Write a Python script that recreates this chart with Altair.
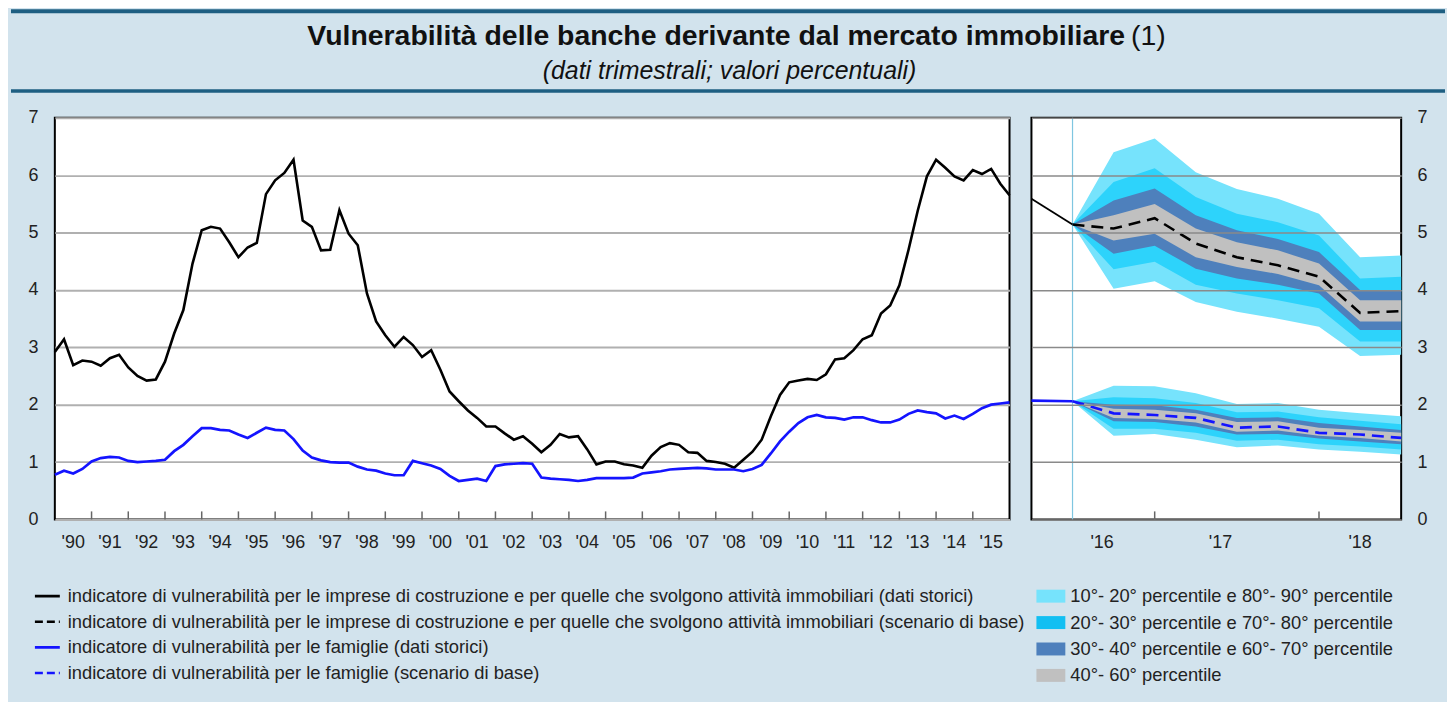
import altair as alt
import pandas as pd

# ---------------- data ----------------
anni_sx = ["'90", "'91", "'92", "'93", "'94", "'95", "'96", "'97", "'98", "'99",
           "'00", "'01", "'02", "'03", "'04", "'05", "'06", "'07", "'08", "'09",
           "'10", "'11", "'12", "'13", "'14", "'15"]
anni_dx = ["'16", "'17", "'18"]
pos_etichette_dx = [2016.68, 2017.40, 2018.25]

# quarterly, 1990 Q1 .. 2016 Q1
imprese_storico = [
    2.92, 3.14, 2.69, 2.77, 2.75, 2.68, 2.81, 2.87, 2.65, 2.50,
    2.42, 2.44, 2.75, 3.24, 3.65, 4.46, 5.04, 5.10, 5.07, 4.83,
    4.57, 4.74, 4.82, 5.67, 5.91, 6.04, 6.27, 5.21, 5.10, 4.69,
    4.70, 5.39, 4.98, 4.78, 3.94, 3.45, 3.21, 3.01, 3.18, 3.04,
    2.83, 2.95, 2.61, 2.23, 2.06, 1.90, 1.77, 1.62, 1.62, 1.50,
    1.39, 1.45, 1.32, 1.17, 1.30, 1.49, 1.43, 1.45, 1.22, 0.96,
    1.01, 1.01, 0.96, 0.94, 0.90, 1.11, 1.26, 1.33, 1.30, 1.17,
    1.16, 1.02, 1.00, 0.97, 0.90, 1.04, 1.18, 1.39, 1.80, 2.17,
    2.39, 2.42, 2.45, 2.43, 2.53, 2.79, 2.81, 2.95, 3.14, 3.21,
    3.59, 3.73, 4.08, 4.70, 5.38, 5.98, 6.27, 6.13, 5.98, 5.91,
    6.09, 6.02, 6.11, 5.85, 5.65]
famiglie_storico = [
    0.78, 0.85, 0.80, 0.88, 1.01, 1.07, 1.09, 1.08, 1.02, 1.00,
    1.01, 1.02, 1.04, 1.19, 1.30, 1.45, 1.59, 1.59, 1.56, 1.55,
    1.48, 1.42, 1.51, 1.60, 1.56, 1.55, 1.40, 1.20, 1.08, 1.03,
    1.00, 0.99, 0.99, 0.92, 0.87, 0.85, 0.80, 0.77, 0.77, 1.02,
    0.98, 0.94, 0.88, 0.76, 0.67, 0.69, 0.71, 0.67, 0.93, 0.96,
    0.97, 0.98, 0.97, 0.73, 0.71, 0.70, 0.69, 0.67, 0.69, 0.72,
    0.72, 0.72, 0.72, 0.73, 0.80, 0.82, 0.84, 0.87, 0.88, 0.89,
    0.90, 0.89, 0.87, 0.87, 0.87, 0.84, 0.88, 0.95, 1.15, 1.36,
    1.53, 1.68, 1.78, 1.82, 1.78, 1.77, 1.74, 1.78, 1.78, 1.73,
    1.69, 1.69, 1.74, 1.84, 1.90, 1.87, 1.85, 1.76, 1.81, 1.75,
    1.84, 1.94, 2.00, 2.02, 2.04]

# right panel: quarterly 2016 Q2 .. 2018 Q3 (first two points historical)
imprese_storico_dx = [5.59, 5.14]
famiglie_storico_dx = [2.07, 2.06]
imprese_base = [5.14, 5.07, 5.25, 4.81, 4.57, 4.43, 4.23, 3.60, 3.63]
imprese_p10 = [5.14, 4.02, 4.15, 3.79, 3.62, 3.50, 3.36, 2.85, 2.87]
imprese_p20 = [5.14, 4.36, 4.49, 4.09, 3.94, 3.82, 3.68, 3.10, 3.10]
imprese_p30 = [5.14, 4.63, 4.77, 4.37, 4.20, 4.09, 3.94, 3.30, 3.30]
imprese_p40 = [5.14, 4.86, 4.98, 4.57, 4.40, 4.28, 4.08, 3.45, 3.45]
imprese_p60 = [5.14, 5.30, 5.50, 5.07, 4.83, 4.69, 4.46, 3.82, 3.82]
imprese_p70 = [5.14, 5.56, 5.77, 5.30, 5.04, 4.89, 4.66, 4.00, 4.00]
imprese_p80 = [5.14, 5.88, 6.12, 5.62, 5.33, 5.18, 4.95, 4.20, 4.23]
imprese_p90 = [5.14, 6.40, 6.64, 6.05, 5.76, 5.59, 5.33, 4.57, 4.60]
famiglie_base = [2.06, 1.85, 1.82, 1.77, 1.60, 1.62, 1.51, 1.48, 1.42]
famiglie_p10 = [2.06, 1.46, 1.49, 1.39, 1.26, 1.29, 1.22, 1.18, 1.13]
famiglie_p20 = [2.06, 1.58, 1.58, 1.51, 1.37, 1.39, 1.31, 1.27, 1.22]
famiglie_p30 = [2.06, 1.71, 1.70, 1.62, 1.48, 1.49, 1.41, 1.36, 1.31]
famiglie_p40 = [2.06, 1.77, 1.75, 1.69, 1.53, 1.55, 1.46, 1.42, 1.36]
famiglie_p60 = [2.06, 1.93, 1.91, 1.85, 1.70, 1.71, 1.60, 1.56, 1.51]
famiglie_p70 = [2.06, 2.00, 1.99, 1.91, 1.77, 1.78, 1.68, 1.62, 1.56]
famiglie_p80 = [2.06, 2.13, 2.11, 2.03, 1.87, 1.88, 1.78, 1.72, 1.66]
famiglie_p90 = [2.06, 2.33, 2.32, 2.20, 2.01, 2.03, 1.91, 1.85, 1.80]

titolo = "Vulnerabilità delle banche derivante dal mercato immobiliare"
nota = "(1)"
sottotitolo = "(dati trimestrali; valori percentuali)"
legenda_linee = [
    "indicatore di vulnerabilità per le imprese di costruzione e per quelle che svolgono attività immobiliari (dati storici)",
    "indicatore di vulnerabilità per le imprese di costruzione e per quelle che svolgono attività immobiliari (scenario di base)",
    "indicatore di vulnerabilità per le famiglie (dati storici)",
    "indicatore di vulnerabilità per le famiglie (scenario di base)",
]
legenda_bande = [
    "10°- 20° percentile e 80°- 90° percentile",
    "20°- 30° percentile e 70°- 80° percentile",
    "30°- 40° percentile e 60°- 70° percentile",
    "40°- 60° percentile",
]

# ---------------- styling ----------------
FONT = "Liberation Sans"
BG = "#d2e3ed"
DARK = "#1e5f82"
TXT = "#222222"
BLUE = "#1414ff"
C_LIGHT = "#76e3fc"
C_MED = "#2dd3fb"
C_DARK = "#4e80bc"
C_GREY = "#c0c0c0"
W_TOT = 1439
W_L, W_R, H_P = 958, 371, 403
H_HEAD, H_LEG = 99, 148
AX = 18
LAB_Y = H_P + 24   # x labels, pixels below the plot top
GAP = 8            # concat spacing (layout adds its own extent)
SPACER_W = 7

# ---------------- frames ----------------
t_sx = [1990 + 0.25 * i for i in range(len(imprese_storico))]
df_sx = pd.DataFrame({"t": t_sx, "imprese": imprese_storico, "famiglie": famiglie_storico})
df_tick_sx = pd.DataFrame({"t": list(range(1991, 2016))})
df_lab_sx = pd.DataFrame({"t": [1990.5 + i for i in range(len(anni_sx))], "lab": anni_sx})

t_dx = [2016.25 + 0.25 * k for k in range(len(imprese_base) + 1)]
df_stor_dx = pd.DataFrame({"t": t_dx[:2], "imprese": imprese_storico_dx, "famiglie": famiglie_storico_dx})
fan = {
    "imprese": [imprese_base, imprese_p10, imprese_p20, imprese_p30, imprese_p40,
                imprese_p60, imprese_p70, imprese_p80, imprese_p90],
    "famiglie": [famiglie_base, famiglie_p10, famiglie_p20, famiglie_p30, famiglie_p40,
                 famiglie_p60, famiglie_p70, famiglie_p80, famiglie_p90],
}
cols = ["base", "p10", "p20", "p30", "p40", "p60", "p70", "p80", "p90"]
rows = []
for serie, arrs in fan.items():
    for k in range(len(imprese_base)):
        r = {"serie": serie, "t": t_dx[k + 1]}
        for c, a in zip(cols, arrs):
            r[c] = a[k]
        rows.append(r)
df_fan = pd.DataFrame(rows)
df_tick_dx = pd.DataFrame({"t": [2017, 2018]})
df_start = pd.DataFrame({"t": [t_dx[1]]})
df_lab_dx = pd.DataFrame({"t": pos_etichette_dx, "lab": anni_dx})

# ---------------- left panel ----------------
y_sc = alt.Scale(domain=[0, 7], nice=False, zero=True)
x_sx = alt.X("t:Q", scale=alt.Scale(domain=[1990, 2016], nice=False, zero=False), axis=None)
y_sx_axis = alt.Axis(values=list(range(8)), format="d", grid=True, gridColor="#b0b0b0", gridWidth=2,
                     ticks=False, domain=False, labelPadding=17, labelFontSize=AX,
                     labelColor=TXT, title=None)

base_sx = alt.Chart(df_sx)
l_imp = base_sx.mark_line(color="black", strokeWidth=2.6).encode(
    x=x_sx, y=alt.Y("imprese:Q", scale=y_sc, axis=y_sx_axis))
l_fam = base_sx.mark_line(color=BLUE, strokeWidth=2.7).encode(x="t:Q", y="famiglie:Q")
ticks_sx = alt.Chart(df_tick_sx).mark_rule(color="#666666", strokeWidth=1.5).encode(
    x="t:Q", y=alt.datum(0), y2=alt.datum(0.14))
lab_sx = alt.Chart(df_lab_sx).mark_text(baseline="middle", align="center", fontSize=AX,
                                        color=TXT, font=FONT).encode(
    x="t:Q", y=alt.value(LAB_Y), text="lab:N")

left = alt.layer(l_imp, ticks_sx, l_fam, lab_sx).properties(
    width=W_L, height=H_P,
    view=alt.ViewBackground(fill="white", stroke="black", strokeWidth=2))

# ---------------- right panel ----------------
x_dx = alt.X("t:Q", scale=alt.Scale(domain=[2016.25, 2018.5], nice=False, zero=False), axis=None)
y_dx_axis = alt.Axis(orient="right", values=list(range(8)), format="d", grid=True, gridColor="#8a8a8a",
                     gridWidth=1.5, ticks=False, domain=False, labelPadding=16,
                     labelFontSize=AX, labelColor=TXT, title=None, zindex=1)

start_rule = alt.Chart(df_start).mark_rule(color="#7fc6e0", strokeWidth=1.2).encode(
    x=x_dx, y=alt.datum(0, scale=y_sc, axis=y_dx_axis), y2=alt.datum(7))
bands = []
for lo, hi, colr in [("p10", "p90", C_LIGHT), ("p20", "p80", C_MED),
                     ("p30", "p70", C_DARK), ("p40", "p60", C_GREY)]:
    bands.append(alt.Chart(df_fan).mark_area(color=colr, opacity=1).encode(
        x="t:Q", y=f"{lo}:Q", y2=f"{hi}:Q", detail="serie:N"))
ticks_dx = alt.Chart(df_tick_dx).mark_rule(color="#666666", strokeWidth=1.5).encode(
    x="t:Q", y=alt.datum(0), y2=alt.datum(0.14))
s_imp = alt.Chart(df_stor_dx).mark_line(color="black", strokeWidth=1.8).encode(x="t:Q", y="imprese:Q")
s_fam = alt.Chart(df_stor_dx).mark_line(color=BLUE, strokeWidth=2.7).encode(x="t:Q", y="famiglie:Q")
b_imp = alt.Chart(df_fan).transform_filter(alt.datum.serie == "imprese").mark_line(
    color="black", strokeWidth=2.6, strokeDash=[12, 7]).encode(x="t:Q", y="base:Q")
b_fam = alt.Chart(df_fan).transform_filter(alt.datum.serie == "famiglie").mark_line(
    color=BLUE, strokeWidth=2.7, strokeDash=[12, 7]).encode(x="t:Q", y="base:Q")
lab_dx = alt.Chart(df_lab_dx).mark_text(baseline="middle", align="center", fontSize=AX,
                                        color=TXT, font=FONT).encode(
    x="t:Q", y=alt.value(LAB_Y), text="lab:N")

right = alt.layer(start_rule, *bands, ticks_dx, s_imp, s_fam, b_imp, b_fam, lab_dx).properties(
    width=W_R, height=H_P,
    view=alt.ViewBackground(fill="white", stroke="black", strokeWidth=2))

spacer = alt.Chart(pd.DataFrame({"a": [0]})).mark_point(opacity=0).encode(
    x=alt.value(0), y=alt.value(0)).properties(width=SPACER_W, height=H_P)

middle = alt.hconcat(spacer, left, right, spacing=GAP)

# ---------------- header ----------------
df_head = pd.DataFrame({"titolo": [titolo], "nota": [nota], "sottotitolo": [sottotitolo]})
hb = alt.Chart(df_head)
header = alt.layer(
    hb.mark_rule(color=DARK, strokeWidth=4).encode(x=alt.value(0), x2=alt.value(W_TOT), y=alt.value(2)),
    hb.mark_rule(color=DARK, strokeWidth=3.5).encode(x=alt.value(0), x2=alt.value(W_TOT), y=alt.value(82)),
    hb.mark_text(align="right", baseline="middle", fontSize=28.5, fontWeight="bold", color="#111111",
                 font=FONT).encode(text="titolo:N", x=alt.value(1118), y=alt.value(27)),
    hb.mark_text(align="left", baseline="middle", fontSize=28.5, color="#111111",
                 font=FONT).encode(text="nota:N", x=alt.value(1124), y=alt.value(27)),
    hb.mark_text(align="center", baseline="middle", fontSize=25, fontStyle="italic", color="#111111",
                 font=FONT).encode(text="sottotitolo:N", x=alt.value(721), y=alt.value(62)),
).properties(width=W_TOT, height=H_HEAD)

# ---------------- legend ----------------
y_leg = alt.Scale(domain=[0, H_LEG], range=[0, H_LEG])
df_leg_l = pd.DataFrame({"label": legenda_linee, "row": [0, 1, 2, 3],
                         "tipo": ["storico", "base", "storico", "base"],
                         "serie": ["imprese", "imprese", "famiglie", "famiglie"]})
df_leg_r = pd.DataFrame({"label": legenda_bande, "row": [0, 1, 2, 3],
                         "banda": ["b1", "b2", "b3", "b4"]})
ll = alt.Chart(df_leg_l).transform_calculate(yy="43 + datum.row * 25.7")
lr = alt.Chart(df_leg_r).transform_calculate(yy="43 + datum.row * 26.5", y0="datum.yy - 6.5",
                                             y1="datum.yy + 6.5")
legend = alt.layer(
    ll.mark_rule(strokeWidth=2.6).encode(
        x=alt.value(24), x2=alt.value(49),
        y=alt.Y("yy:Q", scale=y_leg, axis=None),
        color=alt.Color("serie:N", scale=alt.Scale(domain=["imprese", "famiglie"], range=["black", BLUE]), legend=None),
        strokeDash=alt.StrokeDash("tipo:N", scale=alt.Scale(domain=["storico", "base"], range=[[1, 0], [8, 4]]), legend=None)),
    ll.mark_text(align="left", baseline="middle", fontSize=18.4, color=TXT, font=FONT).encode(
        x=alt.value(57), y=alt.Y("yy:Q", scale=y_leg, axis=None), text="label:N"),
    lr.mark_rect().encode(
        x=alt.value(1029), x2=alt.value(1058),
        y=alt.Y("y0:Q", scale=y_leg, axis=None), y2="y1:Q",
        fill=alt.Fill("banda:N", scale=alt.Scale(domain=["b1", "b2", "b3", "b4"],
                                                 range=[C_LIGHT, "#12bff2", C_DARK, C_GREY]), legend=None)),
    lr.mark_text(align="left", baseline="middle", fontSize=18.4, color=TXT, font=FONT).encode(
        x=alt.value(1063), y=alt.Y("yy:Q", scale=y_leg, axis=None), text="label:N"),
).resolve_scale(color="independent").properties(width=W_TOT, height=H_LEG)

chart = alt.vconcat(header, middle, legend, spacing=0).properties(
    background=BG, padding={"left": 0, "top": 0, "right": 0, "bottom": 0}
).configure(font=FONT).configure_view(stroke=None)

chart.save("out.html", embed_options={"renderer": "svg", "actions": False})
